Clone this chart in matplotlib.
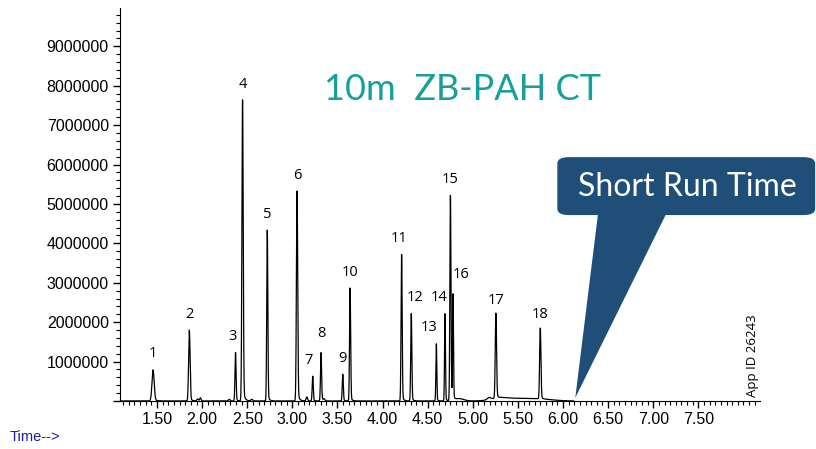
import numpy as np
import matplotlib.pyplot as plt
from matplotlib.patches import FancyBboxPatch, Polygon
from matplotlib.ticker import MultipleLocator, FuncFormatter

# peak table (min, counts, width in min)
peak_ids = [str(i) for i in range(1, 19)]
peak_rt = [1.456, 1.858, 2.370, 2.448, 2.722, 3.052, 3.226, 3.318, 3.559,
           3.640, 4.211, 4.318, 4.596, 4.692, 4.752, 4.781, 5.256, 5.748]
peak_height = [0.79e6, 1.80e6, 1.23e6, 7.64e6, 4.34e6, 5.33e6, 0.63e6, 1.23e6,
               0.68e6, 2.87e6, 3.72e6, 2.22e6, 1.45e6, 2.22e6, 5.21e6, 2.66e6,
               2.16e6, 1.80e6]
peak_sigma = [0.012, 0.008, 0.006, 0.007, 0.006, 0.007, 0.006, 0.006, 0.006,
              0.006, 0.006, 0.006, 0.005, 0.005, 0.006, 0.005, 0.007, 0.007]

# small bumps / baseline drift
bump_rt = [1.95, 1.98, 2.30, 2.55, 3.16, 3.35, 4.85, 5.18, 5.30, 5.55, 5.80]
bump_height = [0.05e6, 0.08e6, 0.04e6, 0.04e6, 0.10e6, 0.05e6, 0.06e6, 0.05e6,
               0.07e6, 0.06e6, 0.03e6]
bump_sigma = [0.008, 0.008, 0.01, 0.01, 0.008, 0.01, 0.05, 0.02, 0.1, 0.15, 0.12]

run_end = 6.12

# label nudges in points (x, y)
label_nudge = {"3": (-2, 0), "7": (-3, 0), "11": (-2, 0), "12": (3, 0),
               "13": (-5, 0), "14": (-4, 0), "16": (6, 4), "8": (0, 2)}


def signal(t):
    y = np.zeros_like(t)
    for rt, h, s in zip(peak_rt, peak_height, peak_sigma):
        d = t - rt
        g = np.exp(-0.5 * (d / s) ** 2)
        # small tail after the apex, zero at the apex itself
        tail = np.where((d > 0) & (d < 0.15), np.exp(-d / (2.5 * s)) * (1 - g) * 0.05, 0)
        y += h * (g + tail)
    for rt, h, s in zip(bump_rt, bump_height, bump_sigma):
        y += h * np.exp(-0.5 * ((t - rt) / s) ** 2)
    return y


plt.rcParams["font.family"] = ["Liberation Sans", "DejaVu Sans"]

fig = plt.figure(figsize=(8.16, 4.49), dpi=100)
ax = fig.add_axes([0.147, 0.107, 0.784, 0.875])

t = np.linspace(1.1, run_end, 6000)
ax.plot(t, signal(t), color="black", linewidth=0.9,
        solid_joinstyle="round", solid_capstyle="round")

for pid, rt, h in zip(peak_ids, peak_rt, peak_height):
    dx, dy = label_nudge.get(pid, (0, 0))
    ax.annotate(pid, (rt, h), xytext=(dx, 6 + dy), textcoords="offset points",
                ha="center", va="bottom", fontsize=10.5, family="Open Sans")

ax.set_xlim(1.089, 8.18)
ax.set_ylim(0, 9.97e6)
ax.xaxis.set_major_locator(MultipleLocator(0.5))
ax.xaxis.set_minor_locator(MultipleLocator(0.0625))
ax.yaxis.set_major_locator(MultipleLocator(1e6))
ax.yaxis.set_minor_locator(MultipleLocator(2e5))
ax.set_xticks(np.arange(1.5, 8.0, 0.5))
ax.xaxis.set_major_formatter(FuncFormatter(lambda v, _: f"{v:.2f}"))
ax.yaxis.set_major_formatter(FuncFormatter(lambda v, _: f"{v:.0f}" if v > 0 else ""))
ax.tick_params(axis="both", which="major", length=5, width=1, labelsize=11.5, pad=3)
ax.tick_params(axis="both", which="minor", length=3, width=0.8)
ax.spines["top"].set_visible(False)
ax.spines["right"].set_visible(False)

fig.text(0.567, 0.80, "10m  ZB-PAH CT", color="#17a09b", fontsize=26,
         family="Lato", ha="center", va="center")

# callout
box = FancyBboxPatch((0.683, 0.521), 0.316, 0.129, boxstyle="round,pad=0,rounding_size=0.014",
                     transform=fig.transFigure, facecolor="#1f4e79", edgecolor="none")
fig.patches.append(box)
tip = Polygon([(0.733, 0.526), (0.817, 0.526), (0.705, 0.114)], closed=True,
              transform=fig.transFigure, facecolor="#1f4e79", edgecolor="none")
fig.patches.append(tip)
fig.text(0.842, 0.583, "Short Run Time", color="white", fontsize=23,
         family="Lato", ha="center", va="center")

fig.text(0.922, 0.207, "App ID 26243", rotation=90, fontsize=9.5, family="Open Sans",
         ha="center", va="center")
fig.text(0.012, 0.012, "Time-->", color="#1a1aa6", fontsize=10.5, ha="left", va="bottom")

fig.savefig("out.png", dpi=100, facecolor="white")
